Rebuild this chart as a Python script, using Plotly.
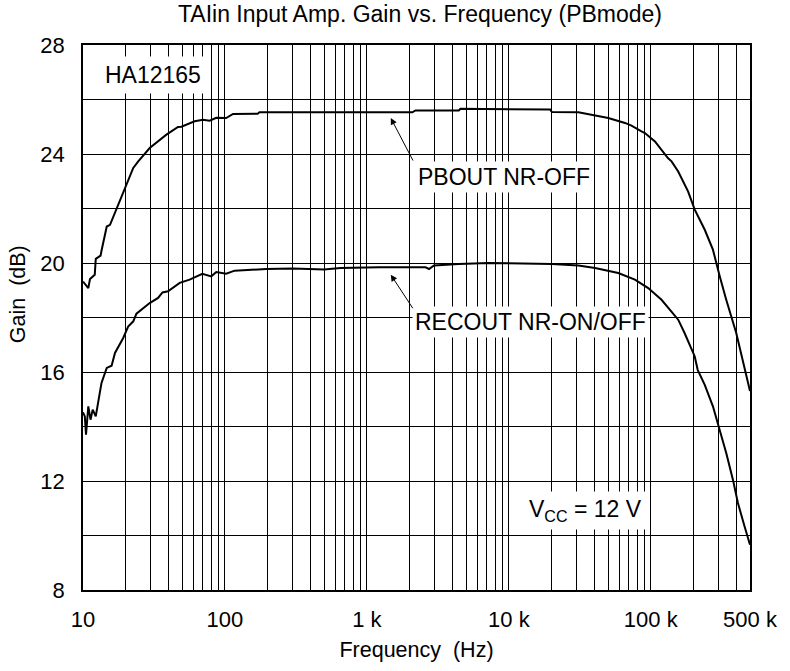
import plotly.graph_objects as go
import math

# ---- data ----
pb_freq = [10, 10.9, 11.2, 12.1, 12.3, 13.3, 13.5, 14.7, 15.5, 19.2, 22.6, 24.5, 29.5, 38.7, 46.7,
           49.3, 61.2, 70.0, 78.0, 86.9, 102, 114, 170, 175, 414, 1690, 2090, 2200, 4440, 4560,
           19550, 20100, 30900, 38300, 50200, 65800, 73100, 86000, 90900, 107000, 119000,
           132000, 140000, 156000, 183000, 204000, 240000, 274000, 306000, 340000, 400000,
           458000, 500000]
pb_gain = [19.32, 19.08, 19.41, 19.57, 20.15, 20.27, 20.45, 21.34, 21.4, 22.57, 23.49, 23.73, 24.22,
           24.71, 24.99, 25.0, 25.2, 25.26, 25.22, 25.33, 25.32, 25.47, 25.48, 25.53, 25.54, 25.53,
           25.53, 25.6, 25.6, 25.66, 25.63, 25.54, 25.53, 25.44, 25.32, 25.14, 25.04, 24.83, 24.77,
           24.46, 24.16, 23.85, 23.73, 23.36, 22.63, 21.96, 21.22, 20.49, 19.51, 18.65, 17.43,
           16.2, 15.3]

rec_freq = [10, 10.3, 10.5, 10.9, 11.3, 11.7, 12.3, 13.5, 14.7, 15.9, 16.8, 19.2, 20.8, 22.6, 23.8,
            29.5, 33.8, 36.3, 39.7, 48.0, 56.4, 69.3, 80.1, 86.9, 102, 117, 195, 300, 500, 650,
            1220, 2590, 2740, 2970, 4440, 7180, 20100, 30900, 40500, 59000, 77300, 95900,
            119000, 140000, 156000, 173000, 204000, 214000, 240000, 274000, 306000, 340000,
            379000, 411000, 458000, 500000]
rec_gain = [14.52, 14.37, 13.7, 14.74, 14.25, 14.62, 14.37, 15.6, 16.15, 16.23, 16.7, 17.25, 17.67,
            17.86, 18.14, 18.53, 18.72, 18.92, 18.96, 19.27, 19.39, 19.6, 19.51, 19.67, 19.61, 19.72,
            19.78, 19.8, 19.76, 19.82, 19.84, 19.84, 19.78, 19.91, 19.96, 20.0, 19.96, 19.91, 19.82,
            19.63, 19.39, 19.08, 18.65, 18.22, 17.92, 17.43, 16.57, 16.08, 15.53, 14.74, 13.88,
            13.03, 12.05, 11.19, 10.33, 9.66]

x_labels = {10: "10", 100: "100", 1000: "1 k", 10000: "10 k", 100000: "100 k", 500000: "500 k"}
x_grid = [d * k for d in (10, 100, 1000, 10000) for k in range(1, 10)] + [100000, 200000, 300000, 400000, 500000]
y_grid = list(range(8, 29, 2))
y_labels = [8, 12, 16, 20, 24, 28]

FONT = "Liberation Sans, Arial, Helvetica, sans-serif"
W, H = 790, 671
ML, MR, MT, MB = 83, 38, 45, 81
PW, PH = W - ML - MR, H - MT - MB

fig = go.Figure()
fig.add_trace(go.Scatter(x=pb_freq, y=pb_gain, mode="lines",
                         line=dict(color="black", width=2), name="PBOUT NR-OFF"))
fig.add_trace(go.Scatter(x=rec_freq, y=rec_gain, mode="lines",
                         line=dict(color="black", width=2), name="RECOUT NR-ON/OFF"))

fig.update_layout(
    width=W, height=H,
    margin=dict(l=ML, r=MR, t=MT, b=MB),
    paper_bgcolor="white", plot_bgcolor="white",
    showlegend=False,
    font=dict(family=FONT, size=22, color="black"),
    title=dict(text="TAIin Input Amp. Gain vs. Frequency (PBmode)",
               x=420 / W, xanchor="center", y=1 - 14 / H, yanchor="middle", yref="container",
               font=dict(size=23, family=FONT, color="black")),
)

fig.update_xaxes(
    type="log", range=[1, math.log10(500000)],
    tickmode="array", tickvals=x_grid,
    ticktext=[x_labels.get(v, "") for v in x_grid],
    showgrid=True, gridcolor="black", gridwidth=1,
    showline=True, linecolor="black", linewidth=1.5, mirror=True,
    ticks="", ticklabelstandoff=9, zeroline=False,
    tickfont=dict(size=22),
    title=dict(text="Frequency\u00a0\u00a0(Hz)", font=dict(size=21.5), standoff=11),
)
fig.update_yaxes(
    range=[8, 28],
    tickmode="array", tickvals=y_grid,
    ticktext=[str(v) if v in y_labels else "" for v in y_grid],
    showgrid=True, gridcolor="black", gridwidth=1,
    showline=True, linecolor="black", linewidth=1.5, mirror=True,
    ticks="", ticklabelstandoff=12, zeroline=False,
    tickfont=dict(size=22),
)

def lx(f):
    return math.log10(f)

annots = [
    dict(x=(18 - ML) / PW, y=(H - MB - 294) / PH, xref="paper", yref="paper", text="Gain\u00a0\u00a0(dB)",
         textangle=-90, showarrow=False, xanchor="center", yanchor="middle", font=dict(size=21.5)),
    dict(x=1.112, y=26.91, text="HA12165", xanchor="left", yanchor="middle", showarrow=False,
         bgcolor="white", borderpad=5, font=dict(size=23)),
    dict(x=3.338, y=23.17, text="PBOUT NR-OFF", xanchor="left", yanchor="middle", showarrow=False,
         bgcolor="white", borderpad=2, font=dict(size=23)),
    dict(x=3.317, y=17.85, text="RECOUT NR-ON/OFF", xanchor="left", yanchor="middle", showarrow=False,
         bgcolor="white", borderpad=2, font=dict(size=23)),
    dict(x=4.975, y=10.91, text="V<sub>CC</sub> = 12 V", xanchor="right", yanchor="middle",
         showarrow=False, bgcolor="white", borderpad=4, font=dict(size=23)),
    dict(x=lx(1473), y=25.32, text="", showarrow=True, ax=23, ay=44, axref="pixel", ayref="pixel",
         arrowhead=2, arrowsize=1.3, arrowwidth=1, arrowcolor="black"),
    dict(x=lx(1473), y=19.57, text="", showarrow=True, ax=23, ay=35, axref="pixel", ayref="pixel",
         arrowhead=2, arrowsize=1.3, arrowwidth=1, arrowcolor="black"),
]
for a in annots:
    a.setdefault("xref", "x")
    a.setdefault("yref", "y")
    fig.add_annotation(**a)

fig.write_html("out.html", config={"displayModeBar": False},
               post_script="document.body.style.margin='0';")
